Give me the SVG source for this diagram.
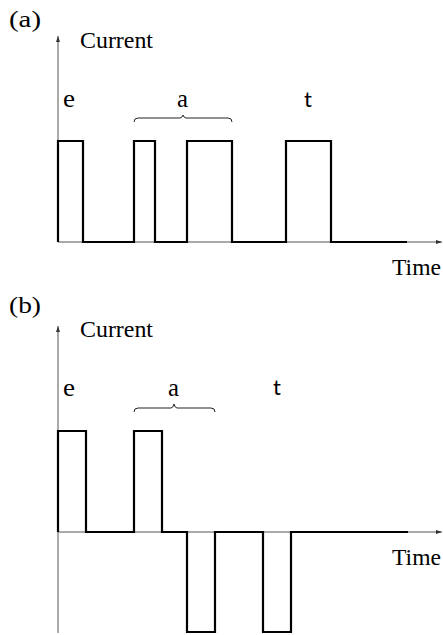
<svg xmlns="http://www.w3.org/2000/svg" width="443" height="635" viewBox="0 0 443 635">
<style>
.lbl{font-family:'Liberation Serif','Times New Roman',serif;font-size:23px;fill:#000}
.big{font-size:25px}
.sans{font-family:Lato,'Liberation Sans',sans-serif;font-size:22px;fill:#000}
.axis{stroke:#555;stroke-width:1;fill:none}
.sig{stroke:#000;stroke-width:2.2;fill:none;stroke-linejoin:miter}
.brace{stroke:#222;stroke-width:1;fill:none}
</style>
<defs>
<marker id="arr" viewBox="0 0 6 6" refX="6" refY="3" markerWidth="6" markerHeight="6" orient="auto" markerUnits="userSpaceOnUse">
<path d="M0,1 L6,3 L0,5 Z" fill="#333"/>
</marker>
</defs>
<rect width="443" height="635" fill="#fff"/>
<g id="panel-a">
<text class="lbl" x="9" y="27" textLength="32" lengthAdjust="spacingAndGlyphs">(a)</text>
<g id="axes-a">
<line class="axis" x1="58" y1="242" x2="58" y2="36" marker-end="url(#arr)"/>
<line class="axis" x1="58" y1="242" x2="442" y2="242" marker-end="url(#arr)"/>
</g>
<text class="lbl" x="80" y="48" textLength="73" lengthAdjust="spacingAndGlyphs">Current</text>
<text class="lbl" x="392" y="275" textLength="49" lengthAdjust="spacingAndGlyphs">Time</text>
<text class="lbl big" x="63" y="107" textLength="12" lengthAdjust="spacingAndGlyphs">e</text>
<text class="lbl big" x="177" y="107" textLength="11" lengthAdjust="spacingAndGlyphs">a</text>
<text class="sans" x="304" y="107">t</text>
<path class="brace" d="M134,122 Q134,118 138,118 H180 Q182,118 183,115 Q184,118 186,118 H228 Q232,118 232,122"/>
<path class="sig" d="M58,242 V141 H83 V242 H134 V141 H155 V242 H187 V141 H232 V242 H286 V141 H331 V242 H407"/>
</g>
<g id="panel-b">
<text class="lbl" x="9" y="313" textLength="32" lengthAdjust="spacingAndGlyphs">(b)</text>
<g id="axes-b">
<line class="axis" x1="58" y1="633" x2="58" y2="326" marker-end="url(#arr)"/>
<line class="axis" x1="58" y1="532" x2="442" y2="532" marker-end="url(#arr)"/>
</g>
<text class="lbl" x="80" y="337" textLength="73" lengthAdjust="spacingAndGlyphs">Current</text>
<text class="lbl" x="392" y="565" textLength="49" lengthAdjust="spacingAndGlyphs">Time</text>
<text class="lbl big" x="63" y="396" textLength="12" lengthAdjust="spacingAndGlyphs">e</text>
<text class="lbl big" x="168" y="396" textLength="11" lengthAdjust="spacingAndGlyphs">a</text>
<text class="sans" x="273" y="395">t</text>
<path class="brace" d="M134,412 Q134,408 138,408 H171 Q173,408 174,404 Q175,408 177,408 H211 Q215,408 215,412"/>
<path class="sig" d="M58,532 V431 H86 V532 H134 V431 H162 V532 H187 V632 H215 V532 H263 V632 H291 V532 H408"/>
</g>
</svg>
